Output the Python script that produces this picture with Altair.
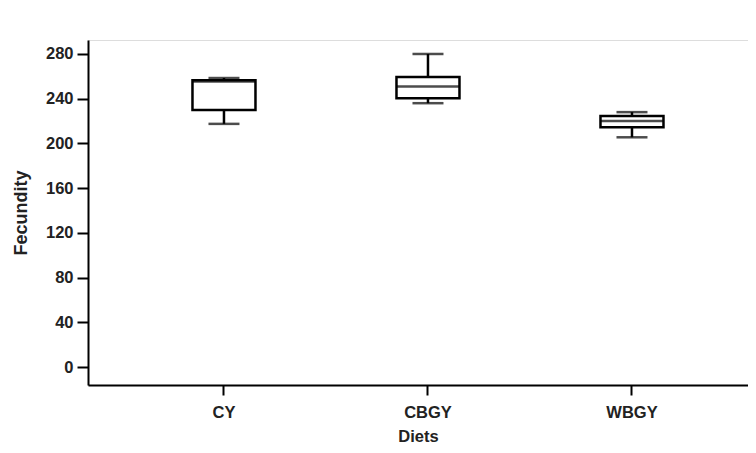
import altair as alt
import pandas as pd

# Box-plot summary statistics
diets = ["CY", "CBGY", "WBGY"]
minimum = [217.5, 236.0, 205.5]
q1 = [230.0, 240.5, 214.5]
median = [255.5, 251.0, 220.0]
q3 = [256.5, 259.5, 224.5]
maximum = [258.5, 280.0, 228.0]
y_ticks = [0, 40, 80, 120, 160, 200, 240, 280]

df = pd.DataFrame({
    "Diets": diets, "min": minimum, "q1": q1,
    "median": median, "q3": q3, "max": maximum,
})

FONT = "Liberation Sans"
LW = 2.5

x = alt.X("Diets:N", sort=diets,
          scale=alt.Scale(type="band", paddingInner=0, paddingOuter=0.1176, align=0.708),
          axis=alt.Axis(title="Diets", labelAngle=0, domain=True, domainColor="black",
                        domainWidth=2, ticks=True, tickColor="black", tickWidth=2,
                        tickSize=10, labelPadding=9, labelFont=FONT, labelFontSize=16.5,
                        labelFontWeight="bold", labelColor="#222", titleFont=FONT,
                        titleFontSize=16.5, titleFontWeight="bold", titleColor="#222",
                        titlePadding=8, grid=False))
yscale = alt.Scale(domain=[-16, 292.5], nice=False, zero=False)
yaxis = alt.Axis(title="Fecundity", values=y_ticks, grid=False, domain=True,
                 domainColor="black", domainWidth=2, tickColor="black", tickWidth=2,
                 tickSize=11, labelPadding=4, labelFont=FONT, labelFontSize=16.5,
                 labelFontWeight="bold", labelColor="#222", titleFont=FONT,
                 titleFontSize=18, titleFontWeight="bold", titleColor="#222",
                 titlePadding=15)

base = alt.Chart(df)

lower = base.mark_rule(color="black", strokeWidth=LW).encode(
    x=x, y=alt.Y("min:Q", scale=yscale, axis=yaxis), y2="q1:Q")
upper = base.mark_rule(color="black", strokeWidth=LW).encode(
    x=x, y=alt.Y("q3:Q", scale=yscale, axis=yaxis), y2="max:Q")
cap_lo = base.mark_tick(color="black", size=31, thickness=LW, orient="horizontal").encode(
    x=x, y=alt.Y("min:Q", scale=yscale, axis=yaxis))
cap_hi = base.mark_tick(color="black", size=31, thickness=LW, orient="horizontal").encode(
    x=x, y=alt.Y("max:Q", scale=yscale, axis=yaxis))
box = base.mark_bar(size=63, fill="white", stroke="black", strokeWidth=LW).encode(
    x=x, y=alt.Y("q1:Q", scale=yscale, axis=yaxis), y2="q3:Q")
med = base.mark_tick(color="black", size=63, thickness=LW, orient="horizontal").encode(
    x=x, y=alt.Y("median:Q", scale=yscale, axis=yaxis))

chart = alt.layer(lower, upper, cap_lo, cap_hi, box, med).properties(
    width=660, height=345,
    autosize=alt.AutoSizeParams(type="none"),
    padding={"left": 80, "top": 32, "right": 0, "bottom": 64},
).configure_view(strokeWidth=0, stroke="transparent").configure_axis(
    grid=False).configure(background="white")

chart.save("out.html", embed_options={"renderer": "svg", "actions": False})
